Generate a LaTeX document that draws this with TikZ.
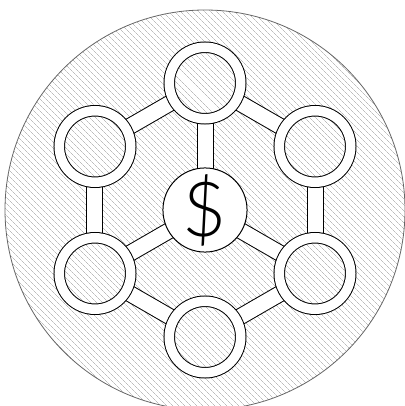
\documentclass[tikz,border=0pt]{standalone}
\usepackage{fontspec}
\usepackage{tikz}
\usetikzlibrary{shapes.geometric, patterns.meta, backgrounds}
\newfontfamily\dollarfont{Lato Light}
\tikzstyle{hatch} = [pattern={Lines[angle=-45,distance=4pt,line width=0.4pt]}, pattern color=black!40]
\tikzstyle{ring} = [circle, minimum size=71.5pt, inner sep=0pt, draw, line width=1pt, double=white, double distance=9.5pt, preaction={fill=white}, hatch]
\tikzstyle{hub} = [circle, minimum size=83pt, inner sep=0pt, draw, line width=1pt, fill=white, font=\dollarfont\fontsize{76}{76}\selectfont]
\tikzstyle{bar} = [line width=1pt, double=white, double distance=15pt]

\begin{document}
\begin{tikzpicture}[node distance=110pt]
\useasboundingbox (-205pt,-196pt) rectangle (199pt,210pt);
\node[hub] (ctr) at (0,0) {\$};
\node[ring] (top) [above of=ctr, yshift=17pt] {};
\node[ring] (bot) [below of=ctr, yshift=-17pt] {};
\node[ring] (tl) [left of=ctr, yshift=63.5pt] {};
\node[ring] (tr) [right of=ctr, yshift=63.5pt] {};
\node[ring] (bl) [left of=ctr, yshift=-63.5pt] {};
\node[ring] (br) [right of=ctr, yshift=-63.5pt] {};

\begin{scope}[on background layer]
\draw [hatch, draw=black!60, line width=0.8pt] (ctr.center) circle (200pt);
\draw [bar] (top.center) -- (tl.center);
\draw [bar] (top.center) -- (tr.center);
\draw [bar] (top.center) -- (ctr.center);
\draw [bar] (tl.center) -- (bl.center);
\draw [bar] (tr.center) -- (br.center);
\draw [bar] (bl.center) -- (bot.center);
\draw [bar] (br.center) -- (bot.center);
\draw [bar] (ctr.center) -- (bl.center);
\draw [bar] (ctr.center) -- (br.center);
\end{scope}
\end{tikzpicture}
\end{document}
